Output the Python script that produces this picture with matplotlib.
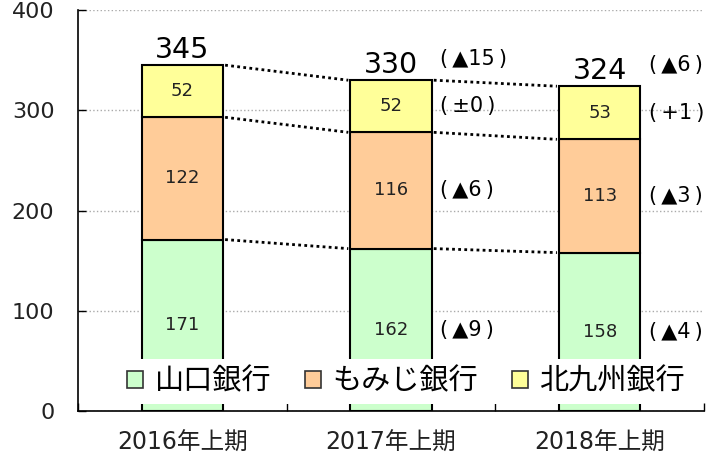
import numpy as np
import matplotlib
matplotlib.use("Agg")
from matplotlib import pyplot as plt
from matplotlib.patches import Patch

plt.rcParams['font.family'] = ['DejaVu Sans', 'Noto Sans CJK JP']

periods = ['2016年上期', '2017年上期', '2018年上期']
banks = ['山口銀行', 'もみじ銀行', '北九州銀行']
yamaguchi = [171, 162, 158]
momiji = [122, 116, 113]
kitakyushu = [52, 52, 53]
totals = [345, 330, 324]
# year-on-year change labels (2017, 2018)
chg_total = ['(\u2009▲15\u2009)', '(\u2009▲6\u2009)']
chg_kita = ['(\u2009±0\u2009)', '(\u2009+1\u2009)']
chg_momiji = ['(\u2009▲6\u2009)', '(\u2009▲3\u2009)']
chg_yama = ['(\u2009▲9\u2009)', '(\u2009▲4\u2009)']

colors = ['#CCFFCC', '#FFCC99', '#FFFF99']

fig = plt.figure(figsize=(7.09, 4.58), dpi=100)
ax = fig.add_axes([0.110, 0.1026, 0.883, 0.8755])

x = np.arange(len(periods))
w = 0.39
series = [yamaguchi, momiji, kitakyushu]
bottom = np.zeros(len(periods))
for vals, col in zip(series, colors):
    ax.bar(x, vals, w, bottom=bottom, color=col, edgecolor='black', linewidth=1.5, zorder=3)
    for i, v in enumerate(vals):
        ax.text(x[i], bottom[i] + v / 2, str(v), ha='center', va='center', fontsize=13, color='#222222', zorder=4)
    bottom = bottom + np.array(vals)

# totals above bars
for i, t in enumerate(totals):
    ax.text(x[i], t + 7, str(t), ha='center', va='baseline', fontsize=20.5, zorder=4)

# dotted connector lines between bars
cum1 = np.array(yamaguchi)
cum2 = cum1 + np.array(momiji)
cum3 = cum2 + np.array(kitakyushu)
for cum in [cum1, cum2, cum3]:
    for i in range(len(periods) - 1):
        ax.plot([x[i] + w / 2 + 0.01, x[i + 1] - w / 2 - 0.01], [cum[i], cum[i + 1]],
                color='black', linestyle=(0, (1, 1.2)), linewidth=2, zorder=2)

# change annotations
for j in range(2):
    i = j + 1
    xt = x[i] + w / 2 + 0.04
    ax.text(xt, totals[i] + 21, chg_total[j], ha='left', va='center', fontsize=15)
    ax.text(xt, cum2[i] + kitakyushu[i] / 2, chg_kita[j], ha='left', va='center', fontsize=15)
    ax.text(xt, cum1[i] + momiji[i] / 2, chg_momiji[j], ha='left', va='center', fontsize=15)
    ax.text(xt, yamaguchi[i] / 2, chg_yama[j], ha='left', va='center', fontsize=15)

ax.set_xlim(-0.5, 2.5)
ax.set_ylim(0, 400)
ax.set_yticks([0, 100, 200, 300, 400])
ax.yaxis.grid(True, color='#aaaaaa', linestyle=':', linewidth=1, zorder=0)
ax.set_axisbelow(True)
ax.tick_params(axis='y', direction='in', length=6, width=1, labelsize=16, pad=17, labelcolor='#222222')
ax.set_xticks(x)
ax.set_xticklabels(periods)
ax.tick_params(axis='x', which='major', length=0, labelsize=17, pad=14, labelcolor='#222222')
ax.set_xticks([-0.5, 0.5, 1.5, 2.5], minor=True)
ax.tick_params(axis='x', which='minor', direction='in', length=6, width=1)
ax.spines['top'].set_visible(False)
ax.spines['right'].set_visible(False)
ax.spines['left'].set_linewidth(1.2)
ax.spines['bottom'].set_linewidth(1.2)

handles = [Patch(facecolor=c, edgecolor='#333333', linewidth=1.2) for c in colors]
leg = ax.legend(handles, banks, loc='center', bbox_to_anchor=(0.524, 0.073), ncol=3, fontsize=21,
                frameon=True, framealpha=1, edgecolor='none', fancybox=False,
                handlelength=0.55, handleheight=0.55, handletextpad=0.4, columnspacing=1.15,
                borderpad=0.3)
leg.set_zorder(5)

fig.savefig('out.png', dpi=100)
